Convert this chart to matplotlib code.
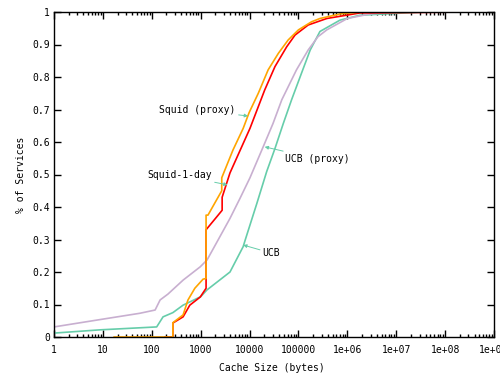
import matplotlib
matplotlib.use("Agg")
import matplotlib.pyplot as plt
from matplotlib.ticker import FixedLocator, FixedFormatter, LogLocator, NullFormatter

# ---- data (cache size in bytes, cumulative fraction of services) ----
squid_proxy_x = [17, 270, 270, 437, 550, 760, 1120, 1290, 1290, 1410, 2700, 2700,
                 4570, 7410, 9770, 15100, 24000, 38900, 61700, 100000, 186000, 275000,
                 708000, 1.8e6, 4.3e7]
squid_proxy_y = [0, 0, 0.044, 0.068, 0.114, 0.15, 0.178, 0.18, 0.375, 0.375, 0.45, 0.49,
                 0.575, 0.642, 0.69, 0.75, 0.822, 0.873, 0.914, 0.945, 0.97, 0.98,
                 0.994, 1.0, 1.0]

squid_1day_x = [186, 270, 270, 437, 600, 980, 1290, 1290, 2140, 2750, 2750, 3980,
                10200, 20400, 33100, 57500, 85100, 158000, 380000, 1.8e6, 2.8e8]
squid_1day_y = [0, 0, 0.043, 0.062, 0.098, 0.123, 0.15, 0.33, 0.37, 0.39, 0.43, 0.505,
                0.642, 0.76, 0.832, 0.893, 0.929, 0.96, 0.98, 0.997, 1.0]

ucb_x = [1, 8.7, 126, 170, 270, 437, 1000, 1350, 3980, 7400, 8130, 14100, 22400,
         33100, 49000, 72400, 115000, 174000, 275000, 708000, 1.8e6, 3.5e7]
ucb_y = [0.012, 0.022, 0.031, 0.062, 0.075, 0.098, 0.124, 0.145, 0.2, 0.278, 0.298,
         0.411, 0.509, 0.58, 0.657, 0.73, 0.811, 0.883, 0.94, 0.975, 0.99, 1.0]

ucb_proxy_x = [1, 10, 57, 117, 148, 214, 437, 980, 1350, 3980, 6300, 10200, 19100,
               30200, 45700, 91200, 158000, 251000, 380000, 1e6, 2.9e6, 1e7]
ucb_proxy_y = [0.031, 0.055, 0.073, 0.083, 0.114, 0.132, 0.175, 0.216, 0.237, 0.365,
               0.425, 0.49, 0.586, 0.657, 0.73, 0.822, 0.883, 0.924, 0.945, 0.98,
               0.994, 1.0]

x_ticks = [1, 10, 100, 1000, 1e4, 1e5, 1e6, 1e7, 1e8, 1e9]
x_tick_labels = ["1", "10", "100", "1000", "10000", "100000", "1e+06", "1e+07", "1e+08", "1e+09"]
y_ticks = [0, 0.1, 0.2, 0.3, 0.4, 0.5, 0.6, 0.7, 0.8, 0.9, 1.0]
y_tick_labels = ["0", "0.1", "0.2", "0.3", "0.4", "0.5", "0.6", "0.7", "0.8", "0.9", "1"]

labels = ["Squid (proxy)", "Squid-1-day", "UCB (proxy)", "UCB"]
label_pos = [(5250, 0.698), (1700, 0.498), (52000, 0.548), (18600, 0.258)]
arrow_target = [(9300, 0.68), (3550, 0.468), (20400, 0.585), (7400, 0.283)]
label_ha = ["right", "right", "left", "left"]

c_orange = "#FFA500"
c_red = "#FF0000"
c_teal = "#66CDAA"
c_lilac = "#C8AFD0"

FONT = "DejaVu Sans Mono"
FS = 7

fig = plt.figure(figsize=(5.0, 3.86), dpi=100)
ax = fig.add_axes([54/500, 49/386, 440/500, 325/386])

ax.plot(ucb_x, ucb_y, color=c_teal, lw=1.2)
ax.plot(ucb_proxy_x, ucb_proxy_y, color=c_lilac, lw=1.2)
ax.plot(squid_1day_x, squid_1day_y, color=c_red, lw=1.2)
ax.plot(squid_proxy_x, squid_proxy_y, color=c_orange, lw=1.2)

ax.set_xscale("log")
ax.set_xlim(1, 1e9)
ax.set_ylim(0, 1)

ax.xaxis.set_major_locator(FixedLocator(x_ticks))
ax.xaxis.set_major_formatter(FixedFormatter(x_tick_labels))
ax.xaxis.set_minor_locator(LogLocator(base=10, subs=range(2, 10), numticks=100))
ax.xaxis.set_minor_formatter(NullFormatter())
ax.yaxis.set_major_locator(FixedLocator(y_ticks))
ax.yaxis.set_major_formatter(FixedFormatter(y_tick_labels))

ax.tick_params(which="both", direction="in", top=True, right=True, width=1, color="black")
ax.tick_params(which="major", length=5)
ax.tick_params(which="minor", length=2.5)
ax.tick_params(axis="x", which="major", pad=6)
ax.tick_params(axis="y", which="major", pad=3)
for lab in ax.get_xticklabels() + ax.get_yticklabels():
    lab.set_fontfamily(FONT)
    lab.set_fontsize(FS)
for sp in ax.spines.values():
    sp.set_linewidth(1)
    sp.set_color("black")

for txt, pos, tgt, ha in zip(labels, label_pos, arrow_target, label_ha):
    ax.annotate(txt, xy=tgt, xytext=pos, ha=ha, va="center",
                fontfamily=FONT, fontsize=FS,
                arrowprops=dict(arrowstyle="-|>", color=c_teal, lw=0.7,
                                mutation_scale=5, shrinkA=0, shrinkB=0))

fig.text(272/500, 1 - 368/386, "Cache Size (bytes)", ha="center", va="center",
         fontfamily=FONT, fontsize=FS)
fig.text(21/500, 1 - 175/386, "% of Services", ha="center", va="center",
         rotation=90, fontfamily=FONT, fontsize=FS)

fig.savefig("out.png", dpi=100)
